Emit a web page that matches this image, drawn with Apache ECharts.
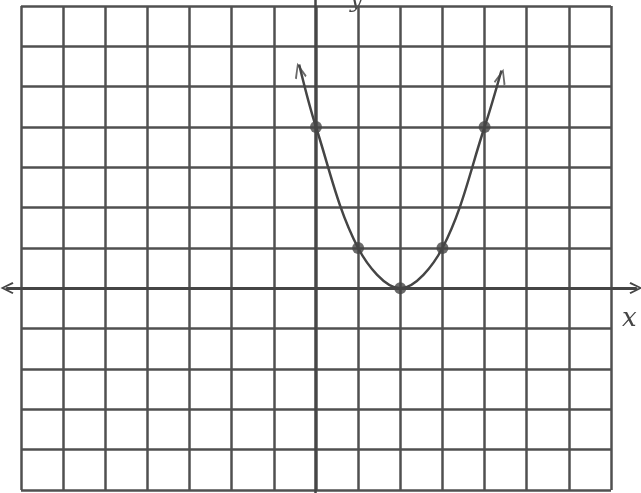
<!DOCTYPE html>
<html>
<head>
<meta charset="utf-8">
<script src="https://cdn.jsdelivr.net/npm/echarts@6/dist/echarts.min.js"></script>
<style>
  html, body { margin: 0; padding: 0; background: #fff; }
  #chart { width: 641px; height: 493px; }
</style>
</head>
<body>
<div id="chart"></div>
<script>
// plotted points of the parabola
var pointX = [0, 1, 2, 3, 4];
var pointY = [4, 1, 0, 1, 4];
// where the hand drawn arrows end
var arrowLeft = [-0.4, 5.55];
var arrowRight = [4.4, 5.4];
// grid paper extent
var xRange = [-7, 7];
var yRange = [-5, 7];

var ink = '#454545';
var paper = '#505050';
var chevron = 'path://M0,12 L6,0 L12,12 L10.4,13 L6,3.6 L1.6,13 Z';

var points = pointX.map(function(x, i) { return [x, pointY[i]]; });
var curve = [arrowLeft].concat(points, [arrowRight]);

var chart = echarts.init(document.getElementById('chart'), null, { renderer: 'canvas' });

chart.setOption({
    animation: false,
    backgroundColor: '#fff',
    grid: [
        { left: 21, top: 6, width: 590, height: 484 },
        { left: 7, top: 0, width: 629, height: 493 }
    ],
    xAxis: [
        {
            gridIndex: 0, type: 'value', min: xRange[0], max: xRange[1], interval: 1,
            axisLine: { show: false }, axisTick: { show: false }, axisLabel: { show: false },
            splitLine: { show: true, lineStyle: { color: paper, width: 2.5 } }
        },
        {
            gridIndex: 1, type: 'value', min: -7.33, max: 7.65,
            axisLine: {
                show: true, onZero: true,
                symbol: [chevron, chevron], symbolSize: [12, 14],
                lineStyle: { color: ink, width: 3 }
            },
            axisTick: { show: false }, axisLabel: { show: false }, splitLine: { show: false }
        }
    ],
    yAxis: [
        {
            gridIndex: 0, type: 'value', min: yRange[0], max: yRange[1], interval: 1,
            axisLine: { show: false }, axisTick: { show: false }, axisLabel: { show: false },
            splitLine: { show: true, lineStyle: { color: paper, width: 2.5 } }
        },
        {
            gridIndex: 1, type: 'value', min: -5.08, max: 7.14,
            axisLine: { show: true, onZero: true, lineStyle: { color: ink, width: 2.5 } },
            axisTick: { show: false }, axisLabel: { show: false }, splitLine: { show: false }
        }
    ],
    series: [
        {
            type: 'line',
            xAxisIndex: 0, yAxisIndex: 0,
            data: curve,
            smooth: 0.35,
            showSymbol: false,
            lineStyle: { color: ink, width: 2.5 },
            z: 3
        },
        {
            type: 'scatter',
            xAxisIndex: 0, yAxisIndex: 0,
            data: points,
            symbolSize: 12,
            itemStyle: { color: ink },
            z: 4
        },
        {
            type: 'scatter',
            xAxisIndex: 0, yAxisIndex: 0,
            data: [
                { value: arrowLeft, symbolRotate: 14 },
                { value: arrowRight, symbolRotate: -15 }
            ],
            symbol: chevron,
            symbolSize: [12, 16],
            symbolOffset: [0, 6],
            itemStyle: { color: ink },
            z: 4
        }
    ],
    graphic: [
        {
            type: 'text', left: 622, top: 306,
            style: { text: 'x', font: 'italic 26px "DejaVu Serif"', fill: ink }
        },
        {
            type: 'text', left: 350, top: -10,
            style: { text: 'y', font: 'italic 22px "DejaVu Serif"', fill: ink }
        }
    ]
});
</script>
</body>
</html>
